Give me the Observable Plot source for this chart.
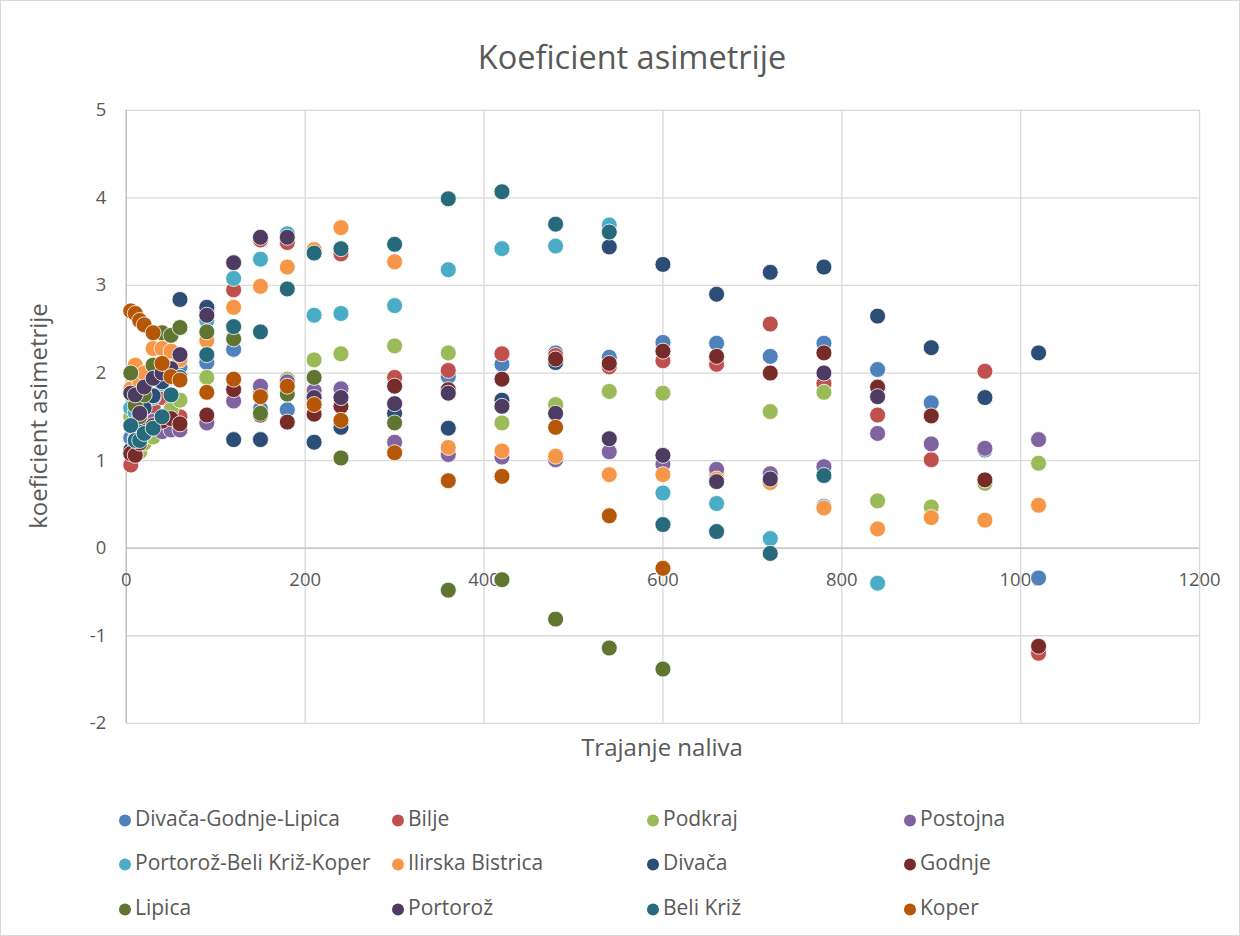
<!DOCTYPE html>
<html>
<head>
<meta charset="utf-8">
<script src="https://cdn.jsdelivr.net/npm/d3@7"></script>
<script src="https://cdn.jsdelivr.net/npm/@observablehq/plot@0.6"></script>
<style>
  html, body { margin: 0; padding: 0; background: #fff; }
  #wrap { position: relative; width: 1240px; height: 936px; box-sizing: border-box; border: 1px solid #d9d9d9; font-family: "Open Sans", sans-serif; color: #595959; overflow: hidden; }
  #chart { position: absolute; left: 0; top: 0; }
  #title { position: absolute; left: 631px; top: 55px; transform: translate(-50%, -50%); font-size: 32.5px; line-height: 1.2; white-space: nowrap; }
  #ylabel { position: absolute; left: 37px; top: 415px; transform: translate(-50%, -50%) rotate(-90deg); font-size: 24px; line-height: 1.2; white-space: nowrap; }
  #xlabel { position: absolute; left: 661px; top: 746px; transform: translate(-50%, -50%); font-size: 24px; line-height: 1.2; white-space: nowrap; }
  .leg { position: absolute; font-size: 21px; line-height: 1.2; white-space: nowrap; transform: translateY(-50%); }
  .leg span.m { display: inline-block; width: 12px; height: 12px; border-radius: 50%; margin-right: 4px; vertical-align: 0px; }
</style>
</head>
<body>
<div id="wrap">
  <div id="title">Koeficient asimetrije</div>
  <div id="ylabel">koeficient asimetrije</div>
  <div id="xlabel">Trajanje naliva</div>
  <div id="chart"></div>
  <div id="legend"></div>
</div>
<script>
const durations = [5,10,15,20,30,40,50,60,90,120,150,180,210,240,300,360,420,480,540,600,660,720,780,840,900,960,1020];

const seriesNames = ["Divača-Godnje-Lipica","Bilje","Podkraj","Postojna","Portorož-Beli Križ-Koper","Ilirska Bistrica","Divača","Godnje","Lipica","Portorož","Beli Križ","Koper"];
const seriesColors = ["#4F81BD","#C0504D","#9BBB59","#8064A2","#4BACC6","#F79646","#2C4D75","#772C2A","#5F7530","#4D3B62","#276A7C","#B65708"];

const divacaGodnjeLipica = [1.26,1.22,1.25,1.35,1.55,1.80,1.95,2.07,2.12,2.27,1.59,1.58,1.75,1.42,1.86,1.96,2.10,2.23,2.18,2.35,2.34,2.19,2.34,2.04,1.66,1.12,-0.34];
const bilje = [0.95,1.10,1.30,1.45,1.61,1.72,1.60,1.50,2.70,2.95,3.52,3.49,3.38,3.36,1.95,2.03,2.22,2.20,2.07,2.14,2.10,2.56,1.88,1.52,1.01,2.02,-1.20];
const podkraj = [1.50,1.25,1.10,1.20,1.27,1.45,1.58,1.69,1.95,1.92,1.78,1.93,2.15,2.22,2.31,2.23,1.43,1.64,1.79,1.77,0.84,1.56,1.78,0.54,0.47,0.74,0.97];
const postojna = [1.40,1.38,1.35,1.40,1.45,1.33,1.35,1.35,1.43,1.68,1.85,1.90,1.80,1.82,1.21,1.07,1.04,1.01,1.10,0.96,0.90,0.85,0.93,1.31,1.19,1.14,1.24];
const portorozBeliKrizKoper = [1.60,1.55,1.65,1.75,1.72,1.88,1.95,2.16,2.60,3.08,3.30,3.59,2.66,2.68,2.77,3.18,3.42,3.45,3.69,0.63,0.51,0.11,0.48,-0.40,null,null,null];
const ilirskaBistrica = [1.82,2.09,1.90,2.00,2.28,2.28,2.25,2.15,2.37,2.75,2.99,3.21,3.41,3.66,3.27,1.15,1.11,1.05,0.84,0.84,0.79,0.75,0.46,0.22,0.35,0.32,0.49];
const divaca = [1.12,1.20,1.40,1.60,1.74,1.90,2.00,2.84,2.75,1.24,1.24,null,1.21,1.38,1.54,1.37,1.69,2.12,3.44,3.24,2.90,3.15,3.21,2.65,2.29,1.72,2.23];
const godnje = [1.08,1.06,1.20,1.30,1.40,1.45,1.48,1.42,1.52,1.81,1.52,1.44,1.53,1.62,1.85,1.81,1.93,2.16,2.11,2.25,2.19,2.00,2.23,1.84,1.51,0.78,-1.12];
const lipica = [2.00,1.63,1.50,1.75,2.09,2.46,2.43,2.52,2.47,2.39,1.54,1.76,1.95,1.03,1.43,-0.48,-0.36,-0.81,-1.14,-1.38,null,null,null,null,null,null,null];
const portoroz = [1.77,1.75,1.54,1.84,1.94,2.00,2.05,2.21,2.66,3.26,3.55,3.55,1.72,1.72,1.65,1.77,1.62,1.54,1.25,1.06,0.76,0.79,2.00,1.73,null,null,null];
const beliKriz = [1.40,1.23,1.23,1.31,1.37,1.50,1.75,1.95,2.21,2.53,2.47,2.96,3.37,3.42,3.47,3.99,4.07,3.70,3.61,0.27,0.19,-0.06,0.83,null,null,null,null];
const koper = [2.71,2.68,2.60,2.55,2.46,2.11,1.96,1.92,1.78,1.93,1.73,1.85,1.64,1.46,1.09,0.77,0.82,1.38,0.37,-0.23,null,null,null,null,null,null,null];

const xTicks = [0,200,400,600,800,1000,1200];
const yTicks = [-2,-1,0,1,2,3,4,5];

const seriesValues = [divacaGodnjeLipica,bilje,podkraj,postojna,portorozBeliKrizKoper,ilirskaBistrica,divaca,godnje,lipica,portoroz,beliKriz,koper];
const points = [];
seriesValues.forEach((vals, i) => {
  vals.forEach((v, j) => {
    if (v !== null) points.push({series: seriesNames[i], t: durations[j], v});
  });
});

const chart = Plot.plot({
  width: 1240,
  height: 780,
  marginLeft: 125,
  marginRight: 40,
  marginTop: 109,
  marginBottom: 57,
  x: {domain: [0, 1200], axis: null},
  y: {domain: [-2, 5], axis: null},
  color: {domain: seriesNames, range: seriesColors},
  style: {fontFamily: "'Open Sans', sans-serif", fontSize: "18.5px", color: "#595959", background: "transparent", overflow: "visible"},
  marks: [
    Plot.ruleX(xTicks, {x: d => d, stroke: "#d9d9d9", strokeWidth: 1.3}),
    Plot.ruleY(yTicks, {y: d => d, stroke: "#d9d9d9", strokeWidth: 1.3}),
    Plot.ruleX([0], {x: d => d, stroke: "#bfbfbf", strokeWidth: 1.3}),
    Plot.ruleY([0], {y: d => d, stroke: "#bfbfbf", strokeWidth: 1.3}),
    Plot.axisY(yTicks, {tickSize: 0, tickPadding: 20, label: null, tickFormat: d => String(d), fill: "#595959", fontSize: 18.5}),
    Plot.text(xTicks, {x: d => d, y: 0, dy: 32, text: d => String(d), fill: "#595959", fontSize: 18.5}),
    Plot.dot(points, {x: "t", y: "v", fill: "series", r: 8, stroke: "white", strokeWidth: 0.8})
  ]
});
document.getElementById("chart").appendChild(chart);

const legendX = [124, 397, 652, 909];
const legendY = [818, 862, 907];
const legend = document.getElementById("legend");
seriesNames.forEach((name, i) => {
  const div = document.createElement("div");
  div.className = "leg";
  div.style.left = (legendX[i % 4] - 6) + "px";
  div.style.top = legendY[Math.floor(i / 4)] + "px";
  div.innerHTML = `<span class="m" style="background:${seriesColors[i]}"></span>${name}`;
  legend.appendChild(div);
});
</script>
</body>
</html>
